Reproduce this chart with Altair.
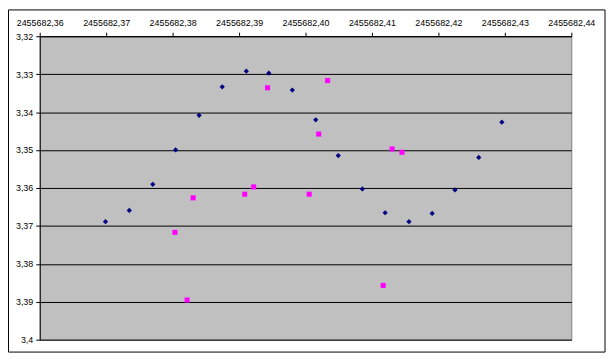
import altair as alt
import pandas as pd

# Series 1 (dark blue diamonds)
s1_x = [2455682.369896, 2455682.373478, 2455682.377015, 2455682.380448, 2455682.383985,
        2455682.387463, 2455682.391090, 2455682.394478, 2455682.398015, 2455682.401537,
        2455682.404925, 2455682.408552, 2455682.411985, 2455682.415567, 2455682.419060,
        2455682.422493, 2455682.426075, 2455682.429552]
s1_y = [3.36889, 3.36593, 3.35903, 3.34999, 3.34084, 3.33333, 3.32923, 3.32975, 3.33420,
        3.34204, 3.35145, 3.36026, 3.36654, 3.36889, 3.36672, 3.36052, 3.35197, 3.34267]

# Series 2 (magenta squares)
s2_x = [2455682.380343, 2455682.382179, 2455682.383090, 2455682.390851, 2455682.392194,
        2455682.394284, 2455682.400552, 2455682.401985, 2455682.403328, 2455682.411687,
        2455682.413030, 2455682.414522]
s2_y = [3.37171, 3.38954, 3.36261, 3.36165, 3.35974, 3.33359, 3.36165, 3.34580, 3.33169,
        3.38570, 3.34973, 3.35059]

x_ticks = [2455682.36, 2455682.37, 2455682.38, 2455682.39, 2455682.40,
           2455682.41, 2455682.42, 2455682.43, 2455682.44]
y_ticks = [3.32, 3.33, 3.34, 3.35, 3.36, 3.37, 3.38, 3.39, 3.40]

df1 = pd.DataFrame({"x": s1_x, "y": s1_y})
df2 = pd.DataFrame({"x": s2_x, "y": s2_y})

FONT = "Liberation Sans"

xscale = alt.Scale(domain=[x_ticks[0], x_ticks[-1]], nice=False, zero=False)
yscale = alt.Scale(domain=[y_ticks[0], y_ticks[-1]], nice=False, zero=False, reverse=True)

xaxis = alt.Axis(orient="top", values=x_ticks, tickCount=20, title=None, grid=False,
                 labelExpr="replace(format(datum.value, '.2f'), '.', ',')",
                 labelOverlap=False, labelFlush=False, labelBound=False,
                 tickSize=4, labelPadding=5, domainColor="black", tickColor="black",
                 labelFont=FONT, labelFontSize=9, labelColor="black")
yaxis = alt.Axis(orient="left", values=y_ticks, tickCount=20, title=None, grid=True,
                 gridColor="black", gridWidth=1, gridOpacity=1,
                 labelExpr="replace(format(datum.value, '.2~f'), '.', ',')",
                 labelOverlap=False, labelFlush=False, labelBound=False,
                 tickSize=4, labelPadding=3, domainColor="black", tickColor="black",
                 labelFont=FONT, labelFontSize=9, labelColor="black")

blue = alt.Chart(df1).mark_point(shape="diamond", filled=True, size=28, opacity=1,
                                 color="#000080").encode(
    x=alt.X("x:Q", scale=xscale, axis=xaxis),
    y=alt.Y("y:Q", scale=yscale, axis=yaxis),
)

magenta = alt.Chart(df2).mark_point(shape="square", filled=True, size=26, opacity=1,
                                    color="#FF00FF").encode(
    x=alt.X("x:Q", scale=xscale),
    y=alt.Y("y:Q", scale=yscale),
)

border = alt.Chart(alt.Data(values=[{}])).mark_rect(
    fillOpacity=0, stroke="black", strokeWidth=1
).encode(
    x=alt.value(-31.5), x2=alt.value(570), y=alt.value(-26.5), y2=alt.value(318.5)
)

chart = alt.layer(border, blue, magenta).properties(
    width=536, height=306,
    autosize=alt.AutoSizeParams(type="none"),
    padding={"left": 32, "top": 27, "right": 35, "bottom": 13},
    background="white",
).configure_view(
    fill="#C0C0C0", stroke="#808080", strokeWidth=1
)

chart.save("out.html", embed_options={"renderer": "svg", "actions": False})
